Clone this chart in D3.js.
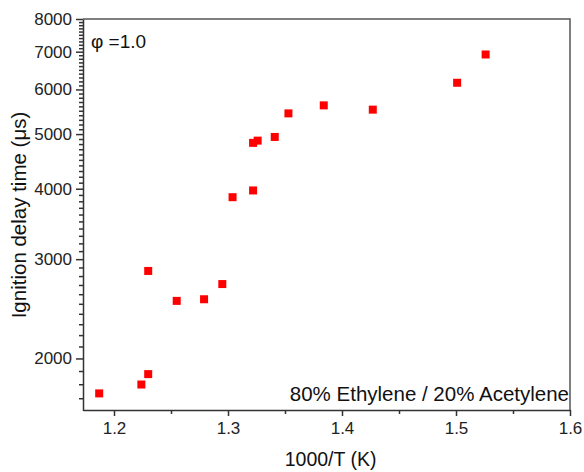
<!DOCTYPE html>
<html>
<head>
<meta charset="utf-8">
<script src="https://cdn.jsdelivr.net/npm/d3@7"></script>
<style>
  body { margin: 0; background: #fff; }
  svg { font-family: "Liberation Sans", Arial, sans-serif; }
  .axis path, .axis line { stroke: #333; }
  .axis text { fill: #222; font-size: 17px; }
</style>
</head>
<body>
<script>
// data: 1000/T (K) and ignition delay time (us)
var invT = [1.187, 1.224, 1.230, 1.230, 1.255, 1.279, 1.295, 1.304, 1.322, 1.322, 1.326, 1.341, 1.353, 1.384, 1.427, 1.501, 1.526];
var tau  = [1734, 1798, 1876, 2859, 2530, 2547, 2710, 3864, 3972, 4824, 4868, 4942, 5441, 5622, 5525, 6166, 6921];

var xTicks = [1.2, 1.3, 1.4, 1.5, 1.6];
var xMinor = [1.25, 1.35, 1.45, 1.55];
var yTicks = [2000, 3000, 4000, 5000, 6000, 7000, 8000];

var phiLabel = "\u03c6 =1.0";
var mixLabel = "80% Ethylene / 20% Acetylene";

// plot box
var margin = {top: 19, right: 14, bottom: 62, left: 83},
    width = 584 - margin.left - margin.right,
    height = 472 - margin.top - margin.bottom;

var x = d3.scaleLinear().domain([1.1728, 1.6]).range([0, width]);
var y = d3.scaleLog().domain([1617, 8000]).range([height + 0.5, 0]);

var svg = d3.select("body").append("svg")
    .attr("width", 584)
    .attr("height", 472)
    .append("g")
    .attr("transform", "translate(" + margin.left + "," + margin.top + ")");

// minor y ticks every 100
var yMinor = [];
for (var v = 1700; v < 8000; v += 100) {
    if (v % 1000 !== 0) yMinor.push(v);
}

// minor ticks
svg.append("g")
    .attr("class", "axis")
    .call(d3.axisLeft(y).tickValues(yMinor).tickSize(4).tickFormat("").tickSizeOuter(0))
    .select(".domain").remove();

svg.append("g")
    .attr("class", "axis")
    .attr("transform", "translate(0," + height + ")")
    .call(d3.axisBottom(x).tickValues(xMinor).tickSize(4).tickFormat("").tickSizeOuter(0))
    .select(".domain").remove();

// major axes
var yAxis = svg.append("g")
    .attr("class", "axis")
    .call(d3.axisLeft(y).tickValues(yTicks).tickSize(7).tickPadding(4)
        .tickFormat(d3.format("d")).tickSizeOuter(0));

var xAxis = svg.append("g")
    .attr("class", "axis")
    .attr("transform", "translate(0," + height + ")")
    .call(d3.axisBottom(x).tickValues(xTicks).tickSize(6).tickPadding(6)
        .tickFormat(d3.format(".1f")).tickSizeOuter(0));

svg.selectAll(".axis line, .axis .domain").attr("stroke-width", 1.5);

// top and right frame
svg.append("path")
    .attr("d", "M0,0H" + width + "V" + height)
    .attr("fill", "none")
    .attr("stroke", "#555")
    .attr("stroke-width", 1.5);

// points
svg.selectAll("rect.pt")
    .data(invT)
    .enter().append("rect")
    .attr("class", "pt")
    .attr("x", function(d) { return x(d) - 4; })
    .attr("y", function(d, i) { return y(tau[i]) - 4; })
    .attr("width", 8)
    .attr("height", 8)
    .attr("fill", "#ff0000");

// labels
svg.append("text")
    .attr("x", 8)
    .attr("y", 29)
    .attr("font-size", 19)
    .attr("fill", "#111")
    .text(phiLabel);

svg.append("text")
    .attr("x", width - 1)
    .attr("y", 382)
    .attr("text-anchor", "end")
    .attr("font-size", 20.5)
    .attr("fill", "#111")
    .text(mixLabel);

// axis titles
svg.append("text")
    .attr("x", x(1.39))
    .attr("y", height + 56)
    .attr("text-anchor", "middle")
    .attr("font-size", 19.5)
    .attr("fill", "#111")
    .text("1000/T (K)");

svg.append("text")
    .attr("transform", "translate(" + (-57) + "," + (215 - margin.top) + ") rotate(-90)")
    .attr("text-anchor", "middle")
    .attr("font-size", 20.5)
    .attr("fill", "#111")
    .text("Ignition delay time (\u03bcs)");
</script>
</body>
</html>
